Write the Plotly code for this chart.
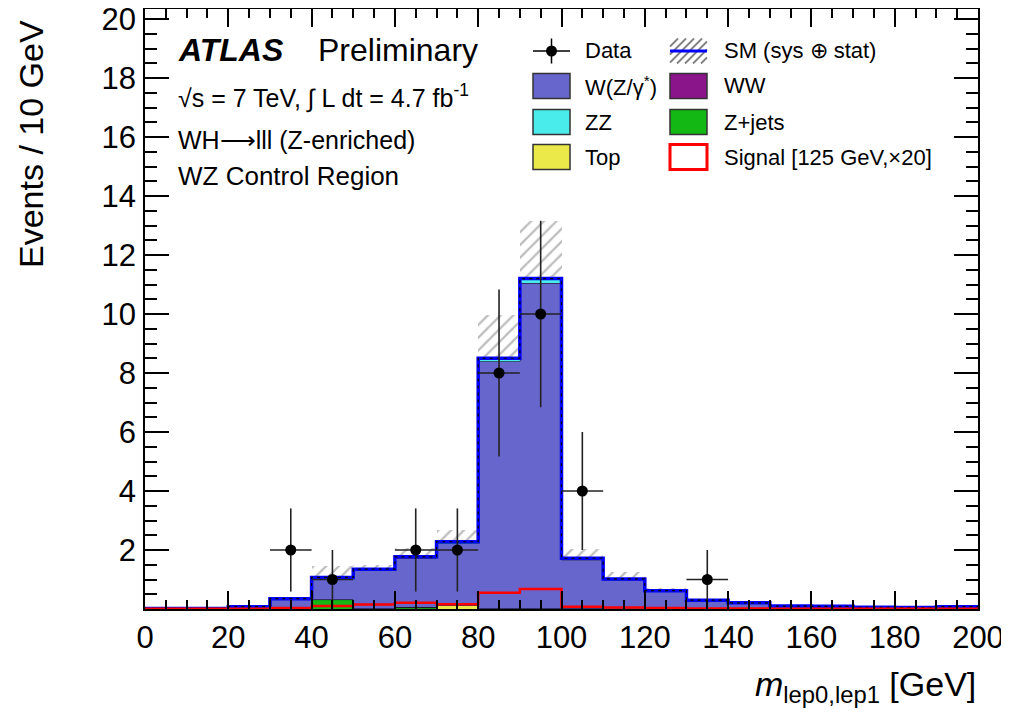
import numpy as np
import plotly.graph_objects as go

# ---------------- data ----------------
bin_edges = list(range(0, 210, 10))
wz   = [0.02, 0.02, 0.08, 0.33, 0.73, 1.30, 1.66, 2.10, 8.38, 11.03, 1.65, 0.98, 0.60, 0.29, 0.20, 0.10, 0.09, 0.06, 0.05, 0.08]
zz   = [0.00, 0.00, 0.00, 0.01, 0.02, 0.03, 0.04, 0.06, 0.10, 0.15, 0.05, 0.03, 0.02, 0.01, 0.01, 0.00, 0.00, 0.00, 0.00, 0.00]
ww   = [0.00, 0.00, 0.00, 0.00, 0.00, 0.00, 0.01, 0.00, 0.00, 0.00, 0.01, 0.00, 0.00, 0.00, 0.00, 0.00, 0.00, 0.00, 0.00, 0.00]
zjets= [0.00, 0.00, 0.00, 0.01, 0.32, 0.00, 0.05, 0.00, 0.02, 0.02, 0.01, 0.01, 0.00, 0.00, 0.00, 0.00, 0.00, 0.00, 0.00, 0.00]
top  = [0.00, 0.00, 0.00, 0.00, 0.00, 0.02, 0.01, 0.12, 0.00, 0.00, 0.00, 0.00, 0.00, 0.00, 0.00, 0.00, 0.00, 0.00, 0.00, 0.00]
sm_err = [0.01, 0.01, 0.02, 0.06, 0.40, 0.15, 0.30, 0.40, 1.45, 1.95, 0.30, 0.22, 0.08, 0.05, 0.03, 0.02, 0.02, 0.01, 0.01, 0.02]
signal_x20 = [0.01, 0.01, 0.01, 0.03, 0.10, 0.15, 0.21, 0.16, 0.55, 0.68, 0.08, 0.05, 0.03, 0.02, 0.02, 0.01, 0.01, 0.01, 0.01, 0.01]

data_x = [35, 45, 65, 75, 85, 95, 105, 135]
data_y = [2, 1, 2, 2, 8, 10, 4, 1]
data_err = [1.41, 1.0, 1.41, 1.41, 2.83, 3.16, 2.0, 1.0]
data_xerr = [5, 5, 5, 5, 5, 5, 5, 5]

x_ticks = list(range(0, 220, 20))
y_ticks = list(range(2, 22, 2))

# ---------------- figure geometry ----------------
# page body has an 8px margin at top/left; figure fills the rest of the 1009x714 window
OFF = 8
W, H = 1009 - OFF, 714 - OFF
PX0, PX1, PY0, PY1 = 145, 978, 9, 609          # plot area in window pixels
L, T = PX0 - OFF, PY0 - OFF
R, B = W - (PX1 - OFF), H - (PY1 - OFF)
PW, PH = PX1 - PX0, PY1 - PY0

def xp(px):
    return (px - PX0) / PW

def yp(py):
    return (PY1 - py) / PH

FONT = "Liberation Sans, Arial, Helvetica, sans-serif"
fig = go.Figure()

def step(vals):
    v = list(vals)
    return bin_edges, v + [v[-1]]

# stacked components (bottom -> top)
stack = [
    ("Top", top, "#EBE94A"),
    ("Z+jets", zjets, "#14B814"),
    ("WW", ww, "#8A148A"),
    ("W(Z/γ*)", wz, "#6666CC"),
    ("ZZ", zz, "#4AEBEB"),
]
cum = np.zeros(len(wz))
for name, vals, col in stack:
    lower = cum.copy()
    cum = cum + np.array(vals)
    xs, ys_low = step(lower)
    xs, ys = step(cum)
    fig.add_trace(go.Scatter(x=xs, y=ys_low, mode="lines", line=dict(width=0, shape="hv"),
                             showlegend=False, hoverinfo="skip"))
    fig.add_trace(go.Scatter(x=xs, y=ys, mode="lines", line=dict(width=1, color="black", shape="hv"),
                             fill="tonexty", fillcolor=col, name=name, showlegend=False))

total = cum
# uncertainty band (hatched)
centers = [e + 5 for e in bin_edges[:-1]]
fig.add_trace(go.Bar(x=centers, y=[2 * e for e in sm_err], base=[t - e for t, e in zip(total, sm_err)],
                     width=10, marker=dict(color="rgba(0,0,0,0)", line=dict(width=0),
                                           pattern=dict(shape="/", fgcolor="#7a7a7a", bgcolor="rgba(0,0,0,0)",
                                                        size=9, solidity=0.25)),
                     showlegend=False, hoverinfo="skip"))

# SM total line
xs, ys = step(total)
fig.add_trace(go.Scatter(x=xs, y=ys, mode="lines", line=dict(width=3.5, color="#0000FF", shape="hv"),
                         showlegend=False))
fig.add_trace(go.Scatter(x=xs, y=ys, mode="lines", line=dict(width=1.2, color="black", shape="hv", dash="3px,4px"),
                         showlegend=False, hoverinfo="skip"))

# signal
xs, ys = step(signal_x20)
fig.add_trace(go.Scatter(x=xs, y=ys, mode="lines", line=dict(width=2.5, color="#FF0000", shape="hv"),
                         showlegend=False))

# data
fig.add_trace(go.Scatter(x=data_x, y=data_y, mode="markers",
                         marker=dict(color="black", size=11),
                         error_y=dict(type="data", array=data_err, color="#222222", thickness=1.6, width=0),
                         error_x=dict(type="data", array=data_xerr, color="#222222", thickness=1.6, width=0),
                         showlegend=False))

# ---------------- axes ----------------
fig.update_xaxes(range=[0, 200], tickvals=x_ticks, ticks="inside", ticklen=18, tickwidth=1.5,
                 tickcolor="black", showline=True, linecolor="black", linewidth=1.5, mirror="ticks",
                 showgrid=False, zeroline=False, ticklabeloverflow="allow",
                 minor=dict(dtick=5, ticks="inside", ticklen=9, tickwidth=1.5, tickcolor="black", showgrid=False),
                 tickfont=dict(family=FONT, size=31, color="black"), ticklabelstandoff=0)
fig.update_yaxes(range=[0, PH / 29.5], tickvals=y_ticks, ticks="inside", ticklen=24, tickwidth=1.5,
                 tickcolor="black", showline=True, linecolor="black", linewidth=1.5, mirror="ticks",
                 showgrid=False, zeroline=False, ticklabeloverflow="allow",
                 minor=dict(dtick=0.5, ticks="inside", ticklen=12, tickwidth=1.5, tickcolor="black", showgrid=False),
                 tickfont=dict(family=FONT, size=31, color="black"), ticklabelstandoff=1)

annotations = []
shapes = []

def txt(text, px, py, size, xanchor="left", **kw):
    annotations.append(dict(text=text, x=xp(px), y=yp(py), xref="paper", yref="paper",
                            xanchor=xanchor, yanchor=kw.pop("yanchor", "middle"), showarrow=False,
                            font=dict(family=FONT, size=size, color="black"), **kw))

# axis titles
txt("Events / 10 GeV", 31, 18, 34, xanchor="center", yanchor="top", textangle=-90)
txt("<i>m</i><sub>lep0,lep1</sub> [GeV]", 978, 686, 34, xanchor="right")

# labels top-left
txt("<b><i>ATLAS</i></b>", 176, 50, 32)
txt("Preliminary", 316, 50, 32)
txt("√s = 7 TeV, ∫ L dt = 4.7 fb<sup>-1</sup>", 176, 97, 25)
txt("WH⟶lll (Z-enriched)", 176, 140, 25)
txt("WZ Control Region", 176, 176, 26)

# ---------------- manual legend ----------------
rows = [51, 86, 122, 157]
c1 = (533, 570, 583)
c2 = (670, 707, 722)
hb = 12.5

def add_box(x0, x1, py, fill, line_col="#333333", lw=1.5):
    shapes.append(dict(type="rect", xref="paper", yref="paper", x0=xp(x0), x1=xp(x1),
                       y0=yp(py + hb), y1=yp(py - hb), fillcolor=fill, line=dict(color=line_col, width=lw)))

def add_line(x0, y0, x1, y1, col, w):
    shapes.append(dict(type="line", xref="paper", yref="paper", x0=xp(x0), x1=xp(x1), y0=yp(y0), y1=yp(y1),
                       line=dict(color=col, width=w)))

# Data
py = rows[0]
cx = (c1[0] + c1[1]) / 2
add_line(c1[0], py, c1[1], py, "black", 1.5)
add_line(cx, py - hb, cx, py + hb, "black", 1.5)
shapes.append(dict(type="circle", xref="paper", yref="paper", x0=xp(cx - 5.5), x1=xp(cx + 5.5),
                   y0=yp(py + 5.5), y1=yp(py - 5.5), fillcolor="black", line=dict(color="black", width=0)))
txt("Data", c1[2], py, 22)

# SM band
x0, x1 = c2[0], c2[1]
ytop, ybot = py - hb, py + hb
bh = ybot - ytop
k = -bh
while k < (x1 - x0):
    sx0, sy0 = x0 + k, ybot
    sx1, sy1 = x0 + k + bh, ytop
    if sx0 < x0:
        sy0 = ybot - (x0 - sx0)
        sx0 = x0
    if sx1 > x1:
        sy1 = ytop + (sx1 - x1)
        sx1 = x1
    if sx1 > sx0:
        add_line(sx0, sy0, sx1, sy1, "#808080", 1.8)
    k += 8
add_line(x0, py, x1, py, "#0000FF", 3)
txt("SM (sys ⊕ stat)", c2[2], py, 22)

add_box(c1[0], c1[1], rows[1], "#6666CC")
txt("W(Z/γ<sup>*</sup>)", c1[2], rows[1], 22)
add_box(c2[0], c2[1], rows[1], "#8A148A")
txt("WW", c2[2], rows[1], 22)
add_box(c1[0], c1[1], rows[2], "#4AEBEB")
txt("ZZ", c1[2], rows[2], 22)
add_box(c2[0], c2[1], rows[2], "#14B814")
txt("Z+jets", c2[2], rows[2], 22)
add_box(c1[0], c1[1], rows[3], "#EBE94A")
txt("Top", c1[2], rows[3], 22)
add_box(c2[0], c2[1], rows[3], "white", line_col="#FF0000", lw=3)
txt("Signal [125 GeV,×20]", c2[2], rows[3], 22)

fig.update_layout(width=W, height=H, margin=dict(l=L, r=R, t=T, b=B, autoexpand=False),
                  paper_bgcolor="white", plot_bgcolor="white", barmode="overlay", bargap=0,
                  showlegend=False, annotations=annotations, shapes=shapes,
                  font=dict(family=FONT, color="black"))

fig.write_html("out.html")
